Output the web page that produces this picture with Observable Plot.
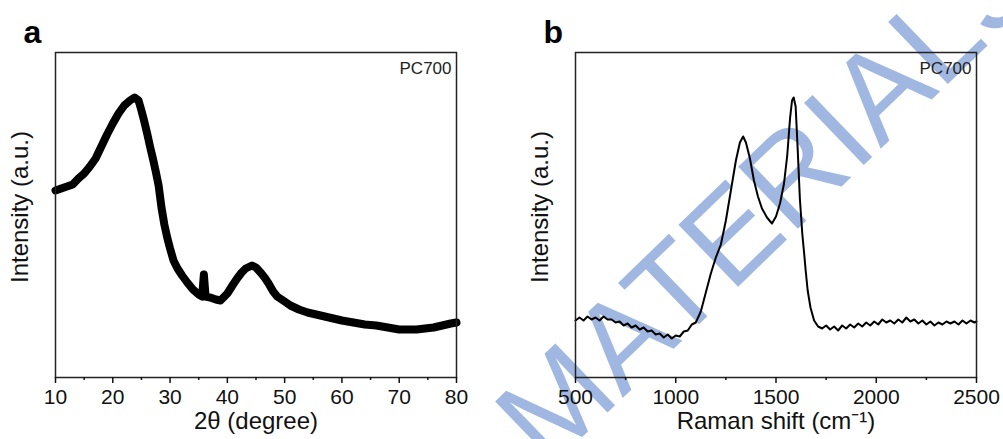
<!DOCTYPE html>
<html><head><meta charset="utf-8">
<script src="https://cdn.jsdelivr.net/npm/d3@7"></script>
<script src="https://cdn.jsdelivr.net/npm/@observablehq/plot@0.6"></script>
<style>
html,body{margin:0;padding:0;background:#fff;}
#wrap{display:flex;width:1003px;height:439px;overflow:hidden;position:relative;}
#wrap svg{flex:none;max-width:none;}
</style></head><body><div id="wrap"></div>
<script>
// ---- Panel a: XRD ----
const xrdTheta = [10,11,12,13,14,15,16,17,18,19,20,21,22,23,23.8,24.5,25,25.5,26,26.5,27,27.5,28,28.5,29,29.5,30,30.6,31.3,32.1,33,34,35,35.6,35.9,36.2,37,38,38.8,40,41,41.7,42.5,43.2,44.3,45,45.8,46.5,47.2,48,48.7,50,51,52.5,54,55.5,57,58.5,60,62,64,66,68,70,71.5,73,74.5,76,77.5,79,80];
const xrdIntensity = [187,189,191,193,199,204,211,219,231,243,254,264,272,277,280,277,267,256,244,231,219,206,192,170,153,140,129,117,109,102,95,88,83,81,103,81,80,78,77,84,93,99,105,109,112,110,105,100,94,86,81,76,72,68,65,63,61,59,57,55,53,52,50,48,48,48,49,50,52,54,55];
const xrdTicks = [10,20,30,40,50,60,70,80];
const xrdMinorTicks = [15,25,35,45,55,65,75];

// ---- Panel b: Raman ----
const ramanShift = [500,520,540,560,580,600,620,640,660,680,700,720,740,760,780,800,820,840,860,880,900,920,940,960,980,1000,1020,1040,1060,1080,1100,1125,1150,1175,1200,1225,1250,1275,1300,1320,1336,1350,1370,1390,1410,1430,1455,1480,1500,1520,1540,1556,1570,1580,1588,1598,1608,1619,1631,1640,1648,1658,1672,1690,1710,1730,1750,1770,1790,1810,1830,1850,1870,1890,1910,1930,1950,1970,1990,2010,2030,2050,2070,2090,2110,2130,2150,2170,2190,2210,2230,2250,2270,2290,2310,2330,2350,2370,2390,2410,2430,2450,2470,2490,2500];
const ramanIntensity = [57,60,57,61,58,60,57,61,58,58,55,56,52,54,50,52,48,50,46,47,43,44,40,43,39,42,41,46,47,53,55,66,85,104,120,133,157,187,217,235,241,235,219,197,181,169,160,154,161,174,194,222,259,277,280,271,229,179,144,125,107,87,70,57,51,49,52,48,51,47,52,49,53,50,54,51,55,52,56,53,58,55,57,54,58,55,60,56,58,54,57,53,56,52,55,53,56,54,56,53,57,54,57,55,56];
const ramanTicks = [500,1000,1500,2000,2500];
const ramanMinorTicks = [750,1250,1750,2250];

// ---- Texts ----
const panelLabels = ["a","b"];
const sampleLabel = "PC700";
const xrdXLabel = "2θ (degree)";
const ramanXLabel = "Raman shift (cm⁻¹)";
const yLabel = "Intensity (a.u.)";
const watermark = "MATERIALS";

const FONT = '"Liberation Sans", Arial, Helvetica, sans-serif';
const INK = "#111";

function panel({xs, ys, domain, ticks, minor, xlabel, label, width, ml, mr, sw, extra = []}) {
  const data = xs.map((x, i) => ({x, y: ys[i]}));
  return Plot.plot({
    width, height: 439,
    marginLeft: ml, marginRight: mr, marginTop: 52, marginBottom: 62,
    style: {fontFamily: FONT, overflow: "visible", color: INK, background: "transparent"},
    x: {domain, label: null},
    y: {domain: [0, 325], axis: null, label: null},
    marks: [
      ...extra,
      Plot.line(data, {x: "x", y: "y", stroke: "#000", strokeWidth: sw, strokeLinejoin: "round", strokeLinecap: "round"}),
      Plot.frame({stroke: "#222", strokeWidth: 1.5}),
      Plot.axisX({ticks, tickSize: 6, tickPadding: 6, fontSize: 21, tickFormat: d => String(d), label: null, strokeWidth: 1.5}),
      Plot.axisX({ticks: minor, tickSize: 3, tickFormat: () => "", label: null, strokeWidth: 1.5}),
      Plot.text([sampleLabel], {text: d => d, frameAnchor: "top-right", dx: -5, dy: 16, textAnchor: "end", lineAnchor: "middle", fontSize: 17, fill: "#222"}),
      Plot.text([xlabel], {text: d => d, frameAnchor: "bottom", dy: 44, textAnchor: "middle", lineAnchor: "middle", fontSize: 24, fill: INK}),
      Plot.text([yLabel], {text: d => d, frameAnchor: "left", dx: -35, dy: -8, rotate: -90, textAnchor: "middle", lineAnchor: "middle", fontSize: 24, fill: INK}),
      Plot.text([label], {text: d => d, frameAnchor: "top-left", dx: -32, dy: -10, textAnchor: "start", lineAnchor: "bottom", fontSize: 32, fontWeight: "bold", fill: "#000"})
    ]
  });
}

const wrap = document.getElementById("wrap");
wrap.appendChild(panel({
  xs: xrdTheta, ys: xrdIntensity, domain: [10, 80], ticks: xrdTicks, minor: xrdMinorTicks,
  xlabel: xrdXLabel, label: panelLabels[0], width: 500, ml: 55, mr: 44, sw: 8
}));
wrap.appendChild(panel({
  xs: ramanShift, ys: ramanIntensity, domain: [500, 2500], ticks: ramanTicks, minor: ramanMinorTicks,
  xlabel: ramanXLabel, label: panelLabels[1], width: 503, ml: 75, mr: 27, sw: 2,
  extra: [Plot.text([watermark], {text: d => d, frameAnchor: "top-left", dx: -28, dy: 418, rotate: -44, textAnchor: "start", lineAnchor: "bottom", fontSize: 125, fill: "#a0b8e1"})]
}));
</script>
</body></html>
